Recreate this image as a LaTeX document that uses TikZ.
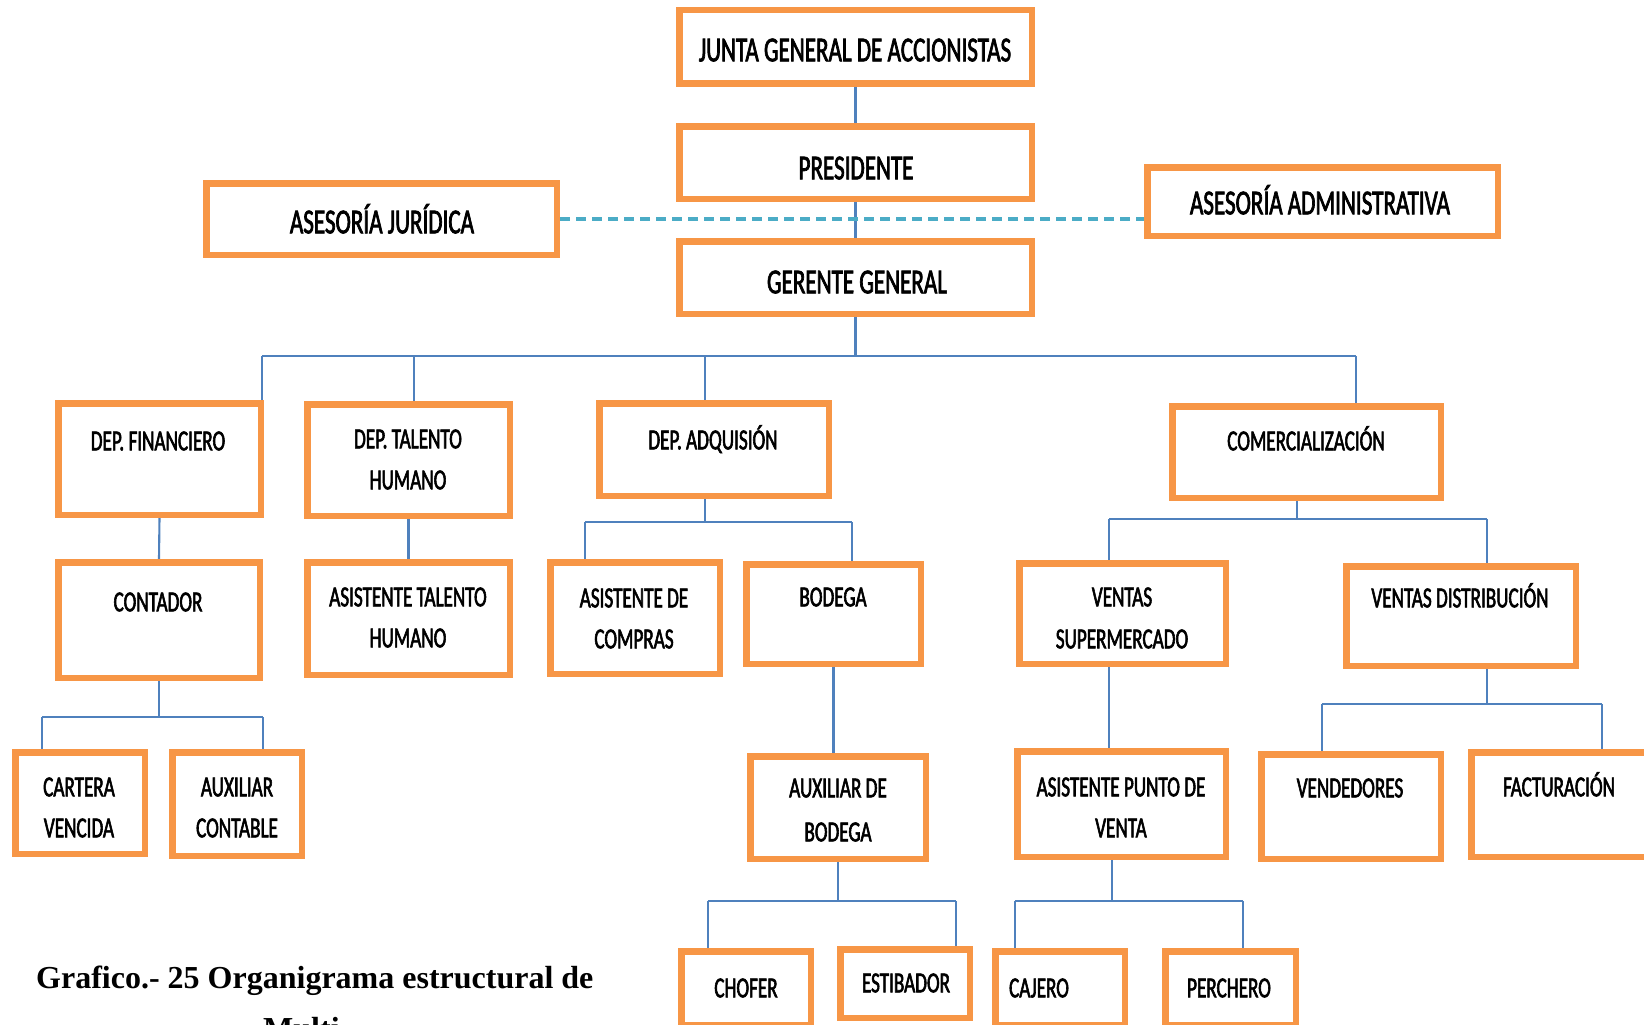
\documentclass[tikz,border=0pt]{standalone}
\usepackage{fontspec}
\usetikzlibrary{backgrounds}
\newfontfamily\boxfont[FakeStretch=0.66,FakeBold=2]{Carlito}
\newfontfamily\capfont{Liberation Serif}
\definecolor{boxorange}{HTML}{F79646}
\definecolor{linkblue}{HTML}{4F81BD}
\definecolor{dashblue}{HTML}{4BACC6}

% box from outer edges: name, left, top, right, bottom
\newcommand{\orgbox}[5]{%
  \node[unitbox, minimum width={#4-#2-6.5}, minimum height={#5-#3-6.5}]
    (#1) at ({(#2+#4)/2},{(#3+#5)/2}) {};}
% one line of box text, centred on (x,y) of its capitals
\newcommand{\bigtxt}[4]{\node[bigtext] (#1) at ({#2},{#3+11.3}) {#4};}
\newcommand{\smtxt}[4]{\node[smalltext] (#1) at ({#2},{#3+9.3}) {#4};}

\begin{document}
\begin{tikzpicture}[x=1pt,y=-1pt,
  unitbox/.style={draw=boxorange, line width=6.5pt, fill=white, inner sep=0pt, rectangle},
  bigtext/.style={font=\boxfont\fontsize{35}{40}\selectfont, anchor=base, inner sep=0pt},
  smalltext/.style={font=\boxfont\fontsize{29}{34}\selectfont, anchor=base, inner sep=0pt},
  captext/.style={font=\capfont\bfseries\fontsize{32}{38}\selectfont, anchor=base west, inner sep=0pt},
  link/.style={draw=linkblue, line width=2.1pt},
  advice/.style={draw=dashblue, line width=3.2pt, dash pattern=on 10pt off 6pt}]

\useasboundingbox (0,0) rectangle (1644,1025);
\clip (0,0) rectangle (1644,1025);

% ---- bus points ----
\coordinate (gbus) at (855.5,356);
\coordinate (d1) at (262,356);
\coordinate (d2) at (414,356);
\coordinate (d3) at (705,356);
\coordinate (d4) at (1356,356);
\coordinate (c1) at (42,717);
\coordinate (c2) at (263,717);
\coordinate (a1) at (585,522);
\coordinate (a2) at (852,522);
\coordinate (m0) at (1297,519);
\coordinate (m1) at (1109,519);
\coordinate (m2) at (1487,519);
\coordinate (b1) at (708,901);
\coordinate (b2) at (956,901);
\coordinate (p0) at (1112,901);
\coordinate (p1) at (1015,901);
\coordinate (p2) at (1243,901);
\coordinate (v1) at (1322,704);
\coordinate (v2) at (1602,704);

% ---- boxes ----
\orgbox{junta}{676}{7}{1035}{87}
\orgbox{pres}{676}{123}{1035}{202}
\orgbox{ger}{676}{238}{1035}{317}
\orgbox{jur}{203}{180}{560}{258}
\orgbox{adm}{1144}{164}{1501}{239}
\orgbox{fin}{55}{400}{264}{518}
\orgbox{tal}{304}{401}{513}{519}
\orgbox{adq}{596}{400}{832}{499}
\orgbox{com}{1169}{403}{1444}{501}
\orgbox{cont}{55}{559}{263}{681}
\orgbox{atal}{304}{559}{513}{678}
\orgbox{acomp}{547}{559}{723}{677}
\orgbox{bod}{743}{561}{924}{667}
\orgbox{vs}{1016}{560}{1229}{667}
\orgbox{vd}{1343}{563}{1579}{669}
\orgbox{cart}{12}{749}{148}{857}
\orgbox{auxc}{169}{749}{305}{859}
\orgbox{auxb}{747}{753}{929}{862}
\orgbox{ap}{1014}{748}{1229}{860}
\orgbox{vend}{1258}{751}{1444}{862}
\orgbox{fact}{1468}{749}{1662}{860}
\orgbox{chof}{678}{948}{814}{1028}
\orgbox{estib}{837}{946}{973}{1021}
\orgbox{caj}{992}{948}{1128}{1028}
\orgbox{perch}{1162}{948}{1299}{1028}

% ---- connectors, behind the boxes ----
\begin{scope}[on background layer]
  \draw[link] (junta.south) -- (pres.north);
  \draw[link] (pres.south) -- (ger.north);
  \draw[advice] (jur.east) -- (jur.east -| adm.west);
  % general manager to departments
  \draw[link] (ger.south) -- (gbus);
  \draw[link] (d1) -- (d4);
  \draw[link] (d1) -- (d1 |- fin.north);
  \draw[link] (d2) -- (d2 |- tal.north);
  \draw[link] (d3) -- (d3 |- adq.north);
  \draw[link] (d4) -- (d4 |- com.north);
  % finance
  \draw[link] (fin.south) -- (cont.north);
  \draw[link] (cont.south) -- (cont.south |- c1);
  \draw[link] (c1) -- (c2);
  \draw[link] (c1) -- (c1 |- cart.north);
  \draw[link] (c2) -- (c2 |- auxc.north);
  % human talent
  \draw[link] (tal.south) -- (atal.north);
  % purchasing
  \draw[link] (d3 |- adq.south) -- (d3 |- a1);
  \draw[link] (a1) -- (a2);
  \draw[link] (a1) -- (a1 |- acomp.north);
  \draw[link] (a2) -- (a2 |- bod.north);
  \draw[link] (bod.south) -- (bod.south |- auxb.north);
  \draw[link] (auxb.south) -- (auxb.south |- b1);
  \draw[link] (b1) -- (b2);
  \draw[link] (b1) -- ([yshift=-4pt]b1 |- chof.north);
  \draw[link] (b2) -- ([yshift=-4pt]b2 |- estib.north);
  % sales
  \draw[link] (m0 |- com.south) -- (m0);
  \draw[link] (m1) -- (m2);
  \draw[link] (m1) -- (m1 |- vs.north);
  \draw[link] (m2) -- (m2 |- vd.north);
  \draw[link] (m1 |- vs.south) -- (m1 |- ap.north);
  \draw[link] (p0 |- ap.south) -- (p0);
  \draw[link] (p1) -- (p2);
  \draw[link] (p1) -- ([yshift=-4pt]p1 |- caj.north);
  \draw[link] (p2) -- ([yshift=-4pt]p2 |- perch.north);
  \draw[link] (m2 |- vd.south) -- (m2 |- v1);
  \draw[link] (v1) -- (v2);
  \draw[link] (v1) -- ([yshift=-6pt]v1 |- vend.north);
  \draw[link] (v2) -- ([yshift=-6pt]v2 |- fact.north);
\end{scope}

% ---- texts ----
\bigtxt{t-junta}{855}{50}{JUNTA GENERAL DE ACCIONISTAS}
\bigtxt{t-pres}{856}{168}{PRESIDENTE}
\bigtxt{t-ger}{857}{282}{GERENTE GENERAL}
\bigtxt{t-jur}{382}{222}{ASESORÍA JURÍDICA}
\bigtxt{t-adm}{1320}{203}{ASESORÍA ADMINISTRATIVA}

\smtxt{t-fin}{158}{441}{DEP. FINANCIERO}
\smtxt{t-tal-a}{408}{439}{DEP. TALENTO}
\smtxt{t-tal-b}{408}{480}{HUMANO}
\smtxt{t-adq}{713}{440}{DEP. ADQUISIÓN}
\smtxt{t-com}{1306}{441}{COMERCIALIZACIÓN}

\smtxt{t-cont}{158}{602}{CONTADOR}
\smtxt{t-atal-a}{408}{597}{ASISTENTE TALENTO}
\smtxt{t-atal-b}{408}{638}{HUMANO}
\smtxt{t-acomp-a}{634}{598}{ASISTENTE DE}
\smtxt{t-acomp-b}{634}{639}{COMPRAS}
\smtxt{t-bod}{833}{597}{BODEGA}
\smtxt{t-vs-a}{1122}{597}{VENTAS}
\smtxt{t-vs-b}{1122}{639}{SUPERMERCADO}
\smtxt{t-vd}{1460}{598}{VENTAS DISTRIBUCIÓN}

\smtxt{t-cart-a}{79}{787}{CARTERA}
\smtxt{t-cart-b}{79}{828}{VENCIDA}
\smtxt{t-auxc-a}{237}{787}{AUXILIAR}
\smtxt{t-auxc-b}{237}{828}{CONTABLE}
\smtxt{t-auxb-a}{838}{788}{AUXILIAR DE}
\smtxt{t-auxb-b}{838}{832}{BODEGA}
\smtxt{t-ap-a}{1121}{787}{ASISTENTE PUNTO DE}
\smtxt{t-ap-b}{1121}{828}{VENTA}
\smtxt{t-vend}{1350}{788}{VENDEDORES}
\smtxt{t-fact}{1559}{787}{FACTURACIÓN}

\smtxt{t-chof}{746}{988}{CHOFER}
\smtxt{t-estib}{906}{983}{ESTIBADOR}
\smtxt{t-caj}{1039}{988}{CAJERO}
\smtxt{t-perch}{1229}{988}{PERCHERO}

% ---- caption ----
\node[captext] (cap-a) at (36,988) {Grafico.- 25 Organigrama estructural de};
\node[captext] (cap-b) at (263,1039) {Multi};
\end{tikzpicture}
\end{document}
